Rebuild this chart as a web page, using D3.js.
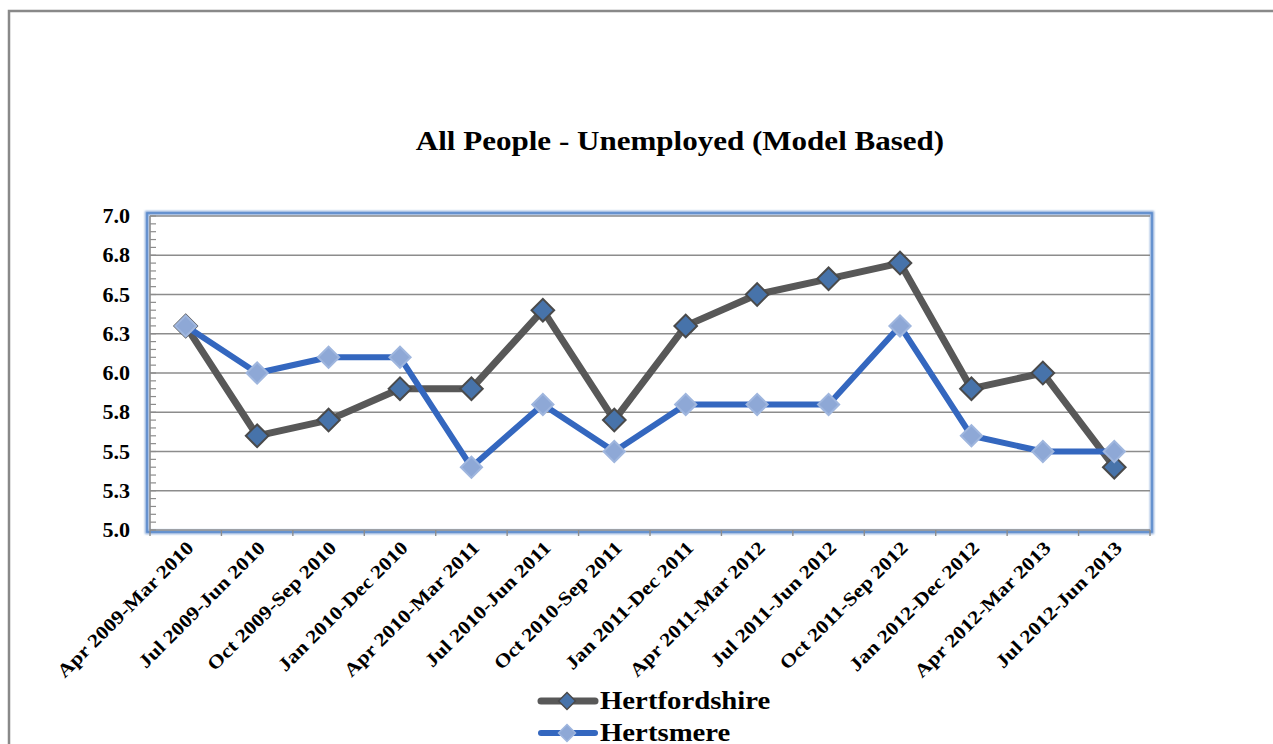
<!DOCTYPE html>
<html><head><meta charset="utf-8">
<script src="https://cdn.jsdelivr.net/npm/d3@7"></script>
<style>
html,body{margin:0;padding:0;background:#fff;}
svg{display:block;}
text{font-family:"Liberation Serif","DejaVu Serif",serif;font-weight:bold;fill:#000;}
</style></head><body>
<svg id="c" width="1273" height="744"></svg>
<script>
const categories = ["Apr 2009-Mar 2010","Jul 2009-Jun 2010","Oct 2009-Sep 2010","Jan 2010-Dec 2010","Apr 2010-Mar 2011","Jul 2010-Jun 2011","Oct 2010-Sep 2011","Jan 2011-Dec 2011","Apr 2011-Mar 2012","Jul 2011-Jun 2012","Oct 2011-Sep 2012","Jan 2012-Dec 2012","Apr 2012-Mar 2013","Jul 2012-Jun 2013"];
const hertfordshire = [6.3,5.6,5.7,5.9,5.9,6.4,5.7,6.3,6.5,6.6,6.7,5.9,6.0,5.4];
const hertsmere = [6.3,6.0,6.1,6.1,5.4,5.8,5.5,5.8,5.8,5.8,6.3,5.6,5.5,5.5];
const yTicks = [5.0,5.25,5.5,5.75,6.0,6.25,6.5,6.75,7.0];
const seriesNames = ["Hertfordshire","Hertsmere"];
const title = "All People - Unemployed (Model Based)";

const SX = 1.15; // horizontal widening to mimic the wider reference face
const svg = d3.select("#c");
svg.append("path").attr("d","M9,744 V11 H1273").attr("fill","none").attr("stroke","#898989").attr("stroke-width",2.5);

const L=150,R=1150,T=216,B=530;
const x = d3.scaleBand().domain(categories).range([L,R]);
const y = d3.scaleLinear().domain([5,7]).range([B,T]);

svg.append("text").attr("text-anchor","middle").attr("font-size",27)
  .attr("transform",`translate(680,150) scale(${SX},1)`).text(title);

const defs = svg.append("defs");
const f = defs.append("filter").attr("id","glow").attr("x","-5%").attr("y","-5%").attr("width","110%").attr("height","110%");
f.append("feGaussianBlur").attr("stdDeviation",1.2);
svg.append("rect").attr("x",L-3).attr("y",T-3).attr("width",R-L+5).attr("height",B-T+5)
  .attr("fill","none").attr("stroke","#7FA3D6").attr("stroke-width",4).attr("filter","url(#glow)");
svg.append("rect").attr("x",L-3).attr("y",T-3).attr("width",R-L+5).attr("height",B-T+5)
  .attr("fill","none").attr("stroke","#5B8BCB").attr("stroke-width",1.5);

svg.append("g").selectAll("line").data(yTicks.filter(d=>d>5)).join("line")
  .attr("x1",L).attr("x2",R).attr("y1",d=>y(d)).attr("y2",d=>y(d))
  .attr("stroke","#8C8C8C").attr("stroke-width",1.6);

const minor = d3.range(0,41).map(i=>5+i*0.05);
svg.append("g").selectAll("line").data(minor).join("line")
  .attr("x1",L).attr("x2",L+6).attr("y1",d=>y(d)).attr("y2",d=>y(d))
  .attr("stroke","#8C8C8C").attr("stroke-width",1.2);
svg.append("line").attr("x1",L).attr("x2",L).attr("y1",T).attr("y2",B).attr("stroke","#8C8C8C").attr("stroke-width",1.6);
svg.append("g").selectAll("text").data(yTicks).join("text")
  .attr("text-anchor","end").attr("font-size",21)
  .attr("transform",d=>`translate(130,${y(d)+7}) scale(1.05,1)`)
  .text(d=>d.toFixed(1));

svg.append("line").attr("x1",L).attr("x2",R).attr("y1",B).attr("y2",B).attr("stroke","#8C8C8C").attr("stroke-width",1.6);
const bounds = categories.map(c=>x(c)).concat([R]);
svg.append("g").selectAll("line").data(bounds).join("line")
  .attr("x1",d=>d).attr("x2",d=>d).attr("y1",B).attr("y2",B+6)
  .attr("stroke","#8C8C8C").attr("stroke-width",1.4);
svg.append("g").selectAll("text").data(categories).join("text")
  .attr("text-anchor","end").attr("font-size",19)
  .attr("transform",d=>`translate(${x(d)+x.bandwidth()/2+9},${B+19}) rotate(-45) scale(${SX},1)`)
  .text(d=>d);

const cx = d=>x(d)+x.bandwidth()/2;
const line = d3.line().x((d,i)=>cx(categories[i])).y(d=>y(d));
const diamond = (g, pts, fill, stroke, s) => g.selectAll("rect").data(pts).join("rect")
  .attr("x",-s/2).attr("y",-s/2).attr("width",s).attr("height",s)
  .attr("transform",(d,i)=>`translate(${cx(categories[i])},${y(d)}) rotate(45)`)
  .attr("fill",fill).attr("stroke",stroke).attr("stroke-width",2);

svg.append("path").datum(hertfordshire).attr("d",line).attr("fill","none").attr("stroke","#585858").attr("stroke-width",7).attr("stroke-linejoin","round");
diamond(svg.append("g"),hertfordshire,"#4773AA","#4A4A4A",16);
svg.append("path").datum(hertsmere).attr("d",line).attr("fill","none").attr("stroke","#3467BF").attr("stroke-width",6).attr("stroke-linejoin","round");
diamond(svg.append("g"),hertsmere,"#8EA8D6","#9FB6DE",15);

const leg = [{n:seriesNames[0],c:"#585858",f:"#4773AA",s:"#4A4A4A",w:7,y:701},{n:seriesNames[1],c:"#3467BF",f:"#8EA8D6",s:"#9FB6DE",w:6,y:733}];
const lg = svg.append("g");
leg.forEach(d=>{
  lg.append("line").attr("x1",541).attr("x2",595).attr("y1",d.y).attr("y2",d.y).attr("stroke",d.c).attr("stroke-width",d.w).attr("stroke-linecap","round");
  lg.append("rect").attr("x",-6).attr("y",-6).attr("width",12).attr("height",12).attr("transform",`translate(567,${d.y}) rotate(45)`).attr("fill",d.f).attr("stroke",d.s).attr("stroke-width",1.5);
  lg.append("text").attr("font-size",25).attr("transform",`translate(600,${d.y+8}) scale(${SX},1)`).text(d.n);
});
</script></body></html>
